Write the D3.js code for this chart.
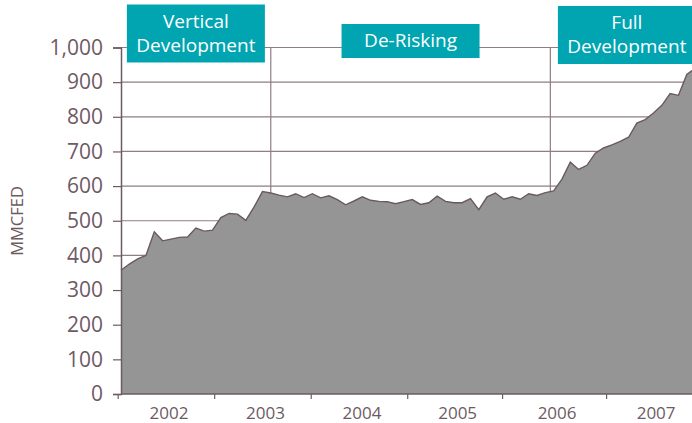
<!DOCTYPE html>
<html>
<head>
<meta charset="utf-8">
<script src="https://cdn.jsdelivr.net/npm/d3@7.9.0/dist/d3.min.js"></script>
<style>
  body { margin: 0; background: #fff; }
  svg { display: block; font-family: "Open Sans", sans-serif; }
</style>
</head>
<body>
<svg width="692" height="423"></svg>
<script>
// monthly production, Jan 2002 onwards (MMCFED)
const production = [
  357, 375, 390, 400, 468, 442, 447, 452, 453, 479, 470, 473,
  509, 521, 519, 501, 540, 584, 580, 574, 569, 578, 567, 578,
  566, 572, 561, 546, 557, 569, 559, 556, 555, 549, 555, 561,
  547, 552, 571, 556, 552, 552, 564, 532, 569, 580, 562, 569,
  562, 578, 573, 581, 586, 620, 669, 648, 660, 695, 710, 719,
  729, 741, 782, 792, 811, 833, 867, 862, 922, 940
];

const yTicks = [0, 100, 200, 300, 400, 500, 600, 700, 800, 900, 1000];
const years = ['2002', '2003', '2004', '2005', '2006', '2007'];
// year boundaries, in months from the first point
const yearStarts = [-0.4, 11.2, 22.8, 34.4, 45.8, 58.3, 69.6];

const phases = [['Vertical', 'Development'], ['De-Risking'], ['Full', 'Development']];
const phaseBreaks = [0, 18, 51.6, 70];

const svg = d3.select('svg');
const W = 692;

let x = d3.scaleLinear().domain([0, 68]).range([121, 686.8]);
let y = d3.scaleLinear().domain([0, 1000]).range([394, 47.5]);

const axisColor = '#6e5a63';
const gridColor = '#8e7d85';
const textColor = '#6e5a63';
const teal = '#00a5b1';

// horizontal grid
svg.append('g').selectAll('line')
  .data(yTicks.filter(d => d > 0))
  .join('line')
  .attr('x1', x(0)).attr('x2', W)
  .attr('y1', d => y(d)).attr('y2', d => y(d))
  .attr('stroke', gridColor).attr('stroke-width', 1.2);

// phase dividers
svg.append('g').selectAll('line')
  .data(phaseBreaks.slice(1, -1))
  .join('line')
  .attr('x1', d => x(d)).attr('x2', d => x(d))
  .attr('y1', y(1000)).attr('y2', y(0))
  .attr('stroke', gridColor).attr('stroke-width', 1.2);

// area
let area = d3.area()
  .x((d, i) => x(i))
  .y0(y(0))
  .y1(d => y(d));
let line = d3.line()
  .x((d, i) => x(i))
  .y(d => y(d));

svg.append('path')
  .datum(production)
  .attr('d', area)
  .attr('fill', '#959595');
svg.append('path')
  .datum(production)
  .attr('d', line)
  .attr('fill', 'none')
  .attr('stroke', '#6b5862')
  .attr('stroke-width', 1.4);

// y axis
let yAxis = svg.append('g')
  .attr('transform', `translate(${x(0)},0)`)
  .call(d3.axisLeft(y).tickValues(yTicks).tickSize(8).tickPadding(10).tickFormat(d3.format(',')));
yAxis.select('.domain').attr('stroke', axisColor).attr('stroke-width', 1.5);
yAxis.selectAll('.tick line').attr('stroke', axisColor).attr('stroke-width', 1.2);
yAxis.selectAll('.tick text')
  .attr('fill', textColor)
  .style('font-size', '21px')
  .style('font-family', '"Open Sans", sans-serif');

// x axis
let xAxis = svg.append('g')
  .attr('transform', `translate(0,${y(0)})`)
  .call(d3.axisBottom(x).tickValues(yearStarts).tickSize(5).tickSizeOuter(0).tickFormat(''));
xAxis.select('.domain').remove();
xAxis.selectAll('.tick line').attr('stroke', axisColor).attr('stroke-width', 1.2);
svg.append('line')
  .attr('x1', x(0)).attr('x2', W)
  .attr('y1', y(0)).attr('y2', y(0))
  .attr('stroke', axisColor).attr('stroke-width', 1.5);

svg.append('g').selectAll('text')
  .data(years)
  .join('text')
  .attr('x', (d, i) => x((yearStarts[i] + yearStarts[i + 1]) / 2) + 3)
  .attr('y', 419)
  .attr('text-anchor', 'middle')
  .attr('fill', textColor)
  .style('font-size', '17px')
  .text(d => d);

// y title
svg.append('text')
  .attr('transform', `translate(23,221) rotate(-90)`)
  .attr('text-anchor', 'middle')
  .attr('fill', textColor)
  .style('font-size', '16.5px')
  .text('MMCFED');

// phase boxes
const boxW = 138;
phases.forEach((lines, i) => {
  let cx = (x(phaseBreaks[i]) + x(phaseBreaks[i + 1])) / 2;
  let h = lines.length == 2 ? 58 : 34;
  let top = lines.length == 2 ? 4.5 : 24;
  if (i == 2) top = 6;
  let g = svg.append('g');
  g.append('rect')
    .attr('x', cx - boxW / 2).attr('y', top)
    .attr('width', boxW).attr('height', h)
    .attr('fill', teal);
  lines.forEach((t, j) => {
    g.append('text')
      .attr('x', cx)
      .attr('y', top + 23 + j * 24)
      .attr('text-anchor', 'middle')
      .attr('fill', '#fff')
      .style('font-size', '19px')
      .text(t);
  });
});
</script>
</body>
</html>
